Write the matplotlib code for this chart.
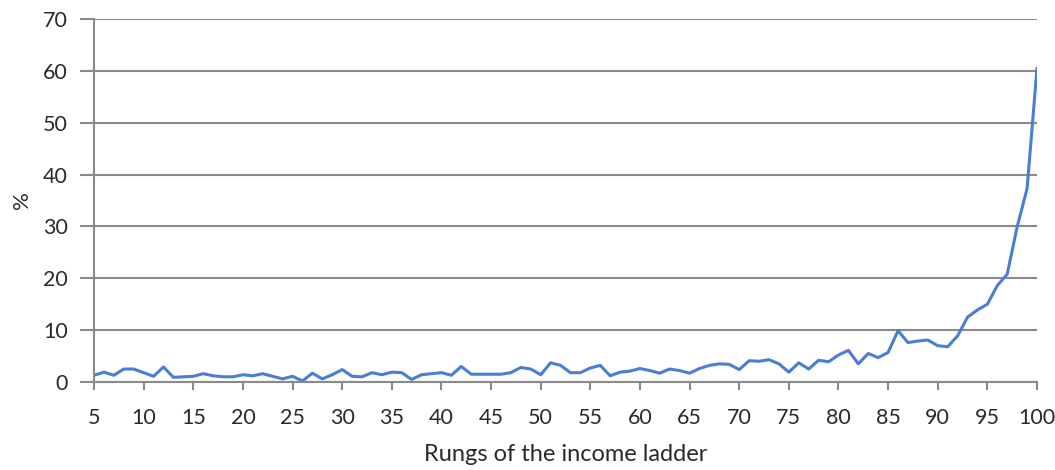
import matplotlib
matplotlib.use("Agg")
import matplotlib.pyplot as plt
import numpy as np

rungs = list(range(5, 101))
share = [1.3, 1.9, 1.3, 2.5, 2.5, 1.8, 1.1, 2.9, 0.9, 1.0,
         1.1, 1.6, 1.2, 1.0, 1.0, 1.4, 1.2, 1.6, 1.1, 0.6,
         1.1, 0.2, 1.7, 0.6, 1.4, 2.4, 1.1, 1.0, 1.8, 1.4,
         1.9, 1.8, 0.5, 1.4, 1.6, 1.8, 1.3, 3.0, 1.5, 1.5,
         1.5, 1.5, 1.8, 2.8, 2.5, 1.4, 3.7, 3.2, 1.8, 1.8,
         2.7, 3.2, 1.2, 1.9, 2.1, 2.6, 2.2, 1.7, 2.5, 2.2,
         1.7, 2.6, 3.2, 3.5, 3.4, 2.4, 4.1, 4.0, 4.3, 3.5,
         1.9, 3.7, 2.5, 4.2, 3.9, 5.2, 6.1, 3.5, 5.5, 4.7,
         5.7, 9.9, 7.6, 7.9, 8.1, 7.0, 6.8, 8.9, 12.5, 13.9,
         15.0, 18.6, 20.8, 29.9, 37.3, 60.5]
xticks = list(range(5, 101, 5))
yticks = list(range(0, 71, 10))

plt.rcParams['font.family'] = ['Lato', 'DejaVu Sans']
fig = plt.figure(figsize=(10.55, 4.70), dpi=100)
ax = fig.add_axes([94/1055, 88/470, (1037-94)/1055, (382-19)/470])

grid_c = '#8a8a8a'
text_c = '#2a2a2a'
ax.plot(rungs, share, color='#4a7dd4', lw=2.2, solid_joinstyle='round',
        solid_capstyle='round')
ax.set_xlim(5, 100)
ax.set_ylim(0, 70)
ax.set_xticks(xticks)
ax.set_yticks(yticks)
ax.yaxis.grid(True, color=grid_c, lw=1.5)
ax.set_axisbelow(True)
for s in ['top', 'right']:
    ax.spines[s].set_visible(False)
for s in ['left', 'bottom']:
    ax.spines[s].set_color(grid_c)
    ax.spines[s].set_linewidth(1.5)
ax.tick_params(axis='x', length=6, width=1.5, color=grid_c, labelsize=15.5,
               labelcolor=text_c, pad=13)
ax.tick_params(axis='y', length=10, width=1.5, color=grid_c, labelsize=15.5,
               labelcolor=text_c, pad=9)
ax.set_xlabel('Rungs of the income ladder', fontsize=17, color=text_c, labelpad=11)
ax.set_ylabel('%', fontsize=16, color=text_c, labelpad=8)
fig.savefig('out.png', dpi=100)
